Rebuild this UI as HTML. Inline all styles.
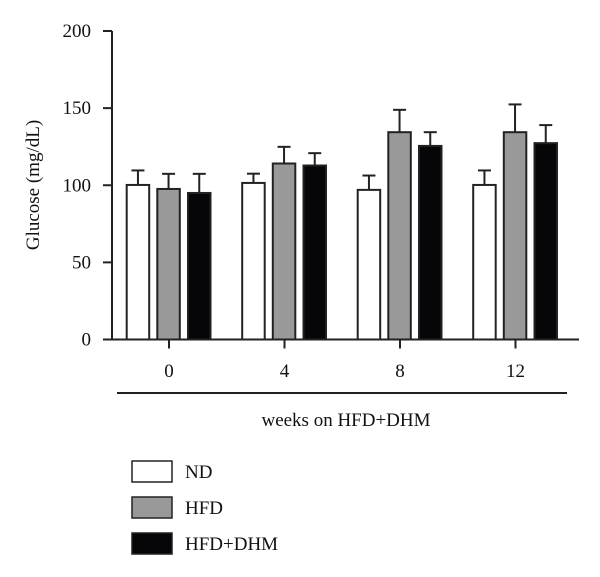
<!DOCTYPE html>
<html><head><meta charset="utf-8"><style>
html,body{margin:0;padding:0;background:#fff;}
svg{display:block;font-family:"Liberation Serif",serif;}
</style></head><body>
<svg id="chart" width="600" height="577" viewBox="0 0 600 577" xmlns="http://www.w3.org/2000/svg">
<g id="axes"></g><g id="bars"></g><g id="legend"></g>
</svg>
<script>
const categories = ["0","4","8","12"];
const seriesNames = ["ND","HFD","HFD+DHM"];
const ndValues = [100.2, 101.5, 97, 100.2];
const hfdValues = [97.6, 114.1, 134.4, 134.4];
const dhmValues = [95, 112.8, 125.5, 127.3];
const ndErr = [9.4, 6, 9.3, 9.4];
const hfdErr = [9.8, 10.8, 14.5, 18];
const dhmErr = [12.4, 8, 8.9, 11.7];
const yTicks = [0, 50, 100, 150, 200];

const NS = "http://www.w3.org/2000/svg";
const fills = ["#ffffff", "#999999", "#060608"];
const x0 = 112, y0 = 339.5, yTop = 31;
function yScale(v){ return y0 - (v/200)*(y0 - yTop); }
function xCenter(i){ return 169 + i*115.5; }
const barOffsets = [-42.3, -11.7, 19];
const barW = 22.5;
function mk(tag, attrs, parent){
  const e = document.createElementNS(NS, tag);
  for (const k in attrs) e.setAttribute(k, attrs[k]);
  parent.appendChild(e); return e;
}
const axes = document.getElementById("axes");
const bars = document.getElementById("bars");
const legend = document.getElementById("legend");

let yAxis = mk("line", {x1:x0, y1:yTop, x2:x0, y2:y0, stroke:"#222", "stroke-width":2}, axes);


let xAxis = mk("line", {x1:x0-1, y1:y0, x2:579, y2:y0, stroke:"#222", "stroke-width":2}, axes);



yTicks.forEach(t => {
  const y = yScale(t);
  const tk = mk("line", {x1:103, y1:y, x2:x0, y2:y, stroke:"#222", "stroke-width":2}, axes);
  
  
  const lb = mk("text", {x:91, y:y+6, "text-anchor":"end", "font-size":19, fill:"#111"}, axes);
  lb.textContent = t;
  
  
});
categories.forEach((c,i) => {
  const x = xCenter(i);
  const tk = mk("line", {x1:x, y1:y0, x2:x, y2:y0+9, stroke:"#222", "stroke-width":2}, axes);
  
  
  const lb = mk("text", {x:x, y:377, "text-anchor":"middle", "font-size":19, fill:"#111"}, axes);
  lb.textContent = c;
  
  
});
const br = mk("line", {x1:117, y1:393, x2:567, y2:393, stroke:"#222", "stroke-width":2}, axes);


const xt = mk("text", {x:346, y:426, "text-anchor":"middle", "font-size":19, fill:"#111"}, axes);
xt.textContent = "weeks on HFD+DHM";


const yt = mk("text", {x:0, y:0, "text-anchor":"middle", "font-size":19, fill:"#111", transform:"translate(39,185) rotate(-90)"}, axes);
yt.textContent = "Glucose (mg/dL)";



const allVals = [ndValues, hfdValues, dhmValues];
const allErr = [ndErr, hfdErr, dhmErr];
categories.forEach((c,i) => {
  allVals.forEach((vals,s) => {
    const xl = xCenter(i) + barOffsets[s];
    const yv = yScale(vals[i]);
    const ye = yScale(vals[i] + allErr[s][i]);
    const xm = xl + barW/2;
    const el = mk("line", {x1:xm, y1:yv, x2:xm, y2:ye, stroke:"#222", "stroke-width":2}, bars);
    
    
    const cap = mk("line", {x1:xm-6.5, y1:ye, x2:xm+6.5, y2:ye, stroke:"#222", "stroke-width":2}, bars);
    
    
    const r = mk("rect", {x:xl, y:yv, width:barW, height:y0-yv, fill:fills[s], stroke:"#222", "stroke-width":2}, bars);
    
    
  });
});
seriesNames.forEach((n,s) => {
  const y = 461 + s*36;
  const r = mk("rect", {x:132, y:y, width:40, height:21, fill:fills[s], stroke:"#222", "stroke-width":1.5}, legend);
  
  
  const t = mk("text", {x:185, y:y+17, "font-size":19, fill:"#111"}, legend);
  t.textContent = n;
  
  
});
</script>
</body></html>
